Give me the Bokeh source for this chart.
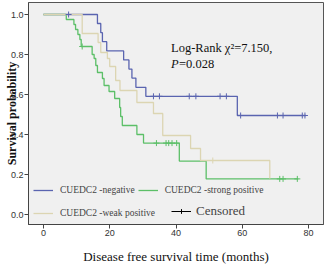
import numpy as np
from bokeh.plotting import figure
from bokeh.models import Label, Legend, LegendItem, FixedTicker, Range1d
from bokeh.embed import file_html
from bokeh.resources import INLINE

# ---- data ----
neg_t = [0, 16.3, 17.3, 17.8, 19.1, 24.2, 25.8, 26.7, 27.9, 30.9, 58.5, 79.2]
neg_s = [1.0, 0.955, 0.909, 0.864, 0.818, 0.773, 0.727, 0.682, 0.636, 0.591, 0.495, 0.495]
neg_cens = [7.6, 33.2, 35.0, 44.0, 46.0, 53.3, 55.2, 59.5, 70.6, 72.3, 78.1, 78.9]

strong_t = [0, 6.9, 9.2, 9.7, 10.4, 11.0, 11.4, 14.7, 15.3, 15.8, 16.3, 17.8, 18.3,
            19.8, 21.5, 23.0, 23.3, 23.8, 28.2, 30.2, 41.0, 49.1, 76.9]
strong_s = [1.0, 0.975, 0.95, 0.925, 0.90, 0.875, 0.84, 0.80, 0.78, 0.745, 0.71, 0.68, 0.645,
            0.615, 0.58, 0.535, 0.49, 0.445, 0.40, 0.357, 0.267, 0.178, 0.178]
strong_cens = [11.7, 34.1, 37.0, 37.8, 38.8, 40.2, 71.3, 72.3, 76.6]

weak_t = [0, 11.7, 16.5, 17.3, 19.3, 20.0, 21.8, 23.1, 28.2, 33.2, 36.0, 44.4, 47.4, 68.3]
weak_s = [1.0, 0.905, 0.86, 0.81, 0.78, 0.74, 0.67, 0.62, 0.56, 0.505, 0.395, 0.33, 0.27, 0.18]
weak_cens = [51.1]

x_ticks = [0, 20, 40, 60, 80]
y_ticks = [0.0, 0.2, 0.4, 0.6, 0.8, 1.0]
group_labels = ["CUEDC2 -negative", "CUEDC2 -strong positive", "CUEDC2 -weak positive"]
colors = ["#5a64b0", "#5cbf68", "#dcd5b2"]


def surv_at(ts, ss, c):
    idx = np.searchsorted(np.array(ts), np.array(c), side="right") - 1
    return list(np.array(ss)[idx])


p = figure(width=326, height=266, output_backend="svg", toolbar_location=None,
           x_range=Range1d(-4.5, 84.5), y_range=Range1d(-0.05, 1.06),
           min_border_left=28, min_border_right=3, min_border_top=2, min_border_bottom=10)
p.background_fill_color = "#f0f0f0"
p.border_fill_color = "white"
p.outline_line_color = "#555555"
p.xgrid.visible = False
p.ygrid.visible = False

for ax in (p.xaxis[0], p.yaxis[0]):
    ax.axis_line_color = "#444444"
    ax.major_tick_line_color = "#444444"
    ax.major_tick_out = 4
    ax.major_tick_in = 0
    ax.minor_tick_out = 0
    ax.minor_tick_in = 0
    ax.major_label_text_font = "Liberation Sans"
    ax.major_label_text_font_size = "9px"
    ax.major_label_text_color = "#333333"
    ax.major_label_standoff = 1
    ax.axis_label_text_font = "Liberation Serif"
    ax.axis_label_text_color = "#111111"
p.xaxis.ticker = FixedTicker(ticks=x_ticks)
p.yaxis.ticker = FixedTicker(ticks=y_ticks)
p.yaxis.major_label_overrides = {v: f"{v:.1f}" for v in y_ticks}

p.yaxis.axis_label = "Survival probability"
p.yaxis.axis_label_text_font_style = "bold"
p.yaxis.axis_label_text_font_size = "12px"
p.yaxis.axis_label_standoff = -11
p.xaxis.axis_label = "Disease free survival time (months)"
p.xaxis.axis_label_text_font_style = "normal"
p.xaxis.axis_label_text_font_size = "13px"
p.xaxis.axis_label_standoff = 10

groups = [(neg_t, neg_s, neg_cens), (strong_t, strong_s, strong_cens), (weak_t, weak_s, weak_cens)]
line_r = []
for (ts, ss, cs), col in zip(groups, colors):
    r = p.step(ts, ss, mode="after", line_color=col, line_width=1.3)
    line_r.append(r)
for (ts, ss, cs), col in zip(groups, colors):
    p.scatter(cs, surv_at(ts, ss, cs), marker="cross", size=6, line_color=col, line_width=1)

# legend-only renderers for the censored symbol (no visible data)
cl = p.line([np.nan], [np.nan], line_color="black", line_width=1)
cm = p.scatter([np.nan], [np.nan], marker="cross", size=9, line_color="black", line_width=1)

common = dict(orientation="horizontal", background_fill_alpha=0, border_line_alpha=0,
              padding=0, margin=0, label_text_font="Liberation Serif",
              label_text_font_size="9.5px", glyph_width=20, glyph_height=12,
              label_height=12, label_standoff=7)
leg1 = Legend(items=[LegendItem(label=group_labels[0], renderers=[line_r[0]]),
                     LegendItem(label=group_labels[1], renderers=[line_r[1]])],
              location=(5, 28), spacing=3, **common)
leg2 = Legend(items=[LegendItem(label=group_labels[2], renderers=[line_r[2]])],
              location=(5, 5), **common)
leg3 = Legend(items=[LegendItem(label="Censored", renderers=[cl, cm])],
              location=(143, 5), **common)
leg3.label_text_font_size = "13px"
leg3.label_standoff = 5
p.add_layout(leg1)
p.add_layout(leg2)
p.add_layout(leg3)

# statistics text
p.add_layout(Label(x=38.5, y=0.835, text="Log-Rank χ²=7.150,", text_font="Liberation Serif",
                   text_font_size="12.5px", text_baseline="middle", text_color="#111111"))
p.add_layout(Label(x=38.5, y=0.755, text="P", text_font="Liberation Serif", text_font_style="italic",
                   text_font_size="12.5px", text_baseline="middle", text_color="#111111"))
p.add_layout(Label(x=40.9, y=0.755, text="=0.028", text_font="Liberation Serif",
                   text_font_size="12.5px", text_baseline="middle", text_color="#111111"))

open("out.html", "w").write(file_html(p, INLINE))
